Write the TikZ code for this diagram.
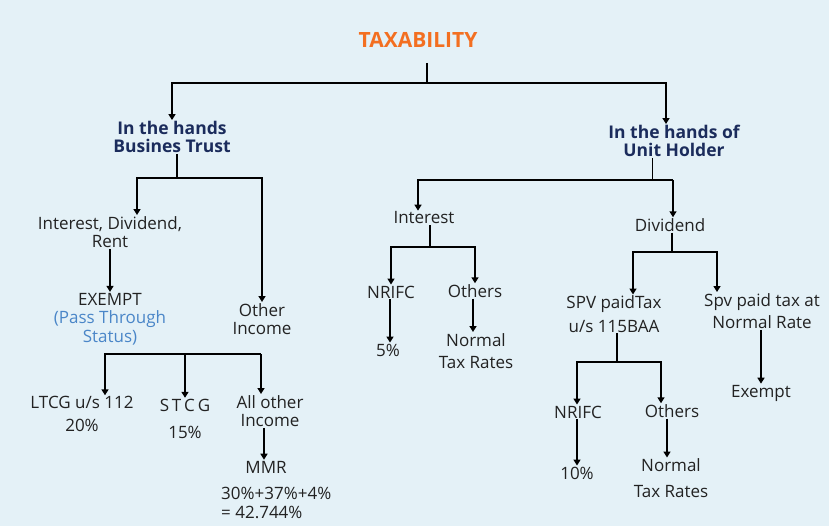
\documentclass[tikz,border=0pt]{standalone}
\usepackage{fontspec}
\setmainfont{Open Sans}
\usetikzlibrary{arrows.meta}
\definecolor{bgblue}{HTML}{E4F1F7}
\definecolor{taxorange}{HTML}{F36F21}
\definecolor{headnavy}{HTML}{1B2C5C}
\definecolor{passblue}{HTML}{4A86C8}
\definecolor{inkgray}{HTML}{222222}
\tikzset{
  txt/.style={align=center, inner sep=1pt, text=inkgray, font=\fontsize{17}{18.5}\selectfont},
  head/.style={align=center, inner sep=1pt, text=headnavy, font=\fontsize{17.5}{18}\selectfont\bfseries},
  ttl/.style={inner sep=2pt, text=taxorange, font=\fontsize{21}{22}\selectfont\bfseries},
  line/.style={line width=1.6pt, black},
  arr/.style={line width=1.6pt, black, -{Triangle[width=7pt,length=6pt]}},
}

\begin{document}
\begin{tikzpicture}[x=1pt,y=-1pt]
  \fill[bgblue] (0,0) rectangle (829,526);
  \useasboundingbox (0,0) rectangle (829,526);

  \node[ttl] (tax) at (418,40) {TAXABILITY};
  \node[head] (bt) at (172,137) {In the hands\\Busines Trust};
  \node[head] (uh) at (674,141) {In the hands of\\Unit Holder};

  \node[txt] (idr) at (110,232) {Interest, Dividend,\\Rent};
  \node[txt] (ex) at (110,319) {EXEMPT\\{\color{passblue}(Pass Through}\\{\color{passblue}Status)}};
  \node[txt] (oi) at (262,319) {Other\\Income};
  \node[txt] (ltcg) at (82,414) {LTCG u/s 112\\[4pt]20\%};
  \node[txt] (stcg) at (185,419) {S\,T\,C\,G\\[9pt]15\%};
  \node[txt] (aoi) at (270,411) {All other\\Income};
  \node[txt] (mmr) at (266,467) {MMR};
  \node[txt, align=left, anchor=west] (calc) at (220,503) {30\%+37\%+4\%\\= 42.744\%};

  \node[txt] (int) at (424,218) {Interest};
  \node[txt] (nr1) at (391,292) {NRIFC};
  \node[txt] (ot1) at (475,291) {Others};
  \node[txt] (r5) at (388,350) {5\%};
  \node[txt] (ntr1) at (476,351) {Normal\\[4pt]Tax Rates};

  \node[txt] (div) at (670,225) {Dividend};
  \node[txt] (spv) at (614,314) {SPV paidTax\\[5pt]u/s 115BAA};
  \node[txt] (spvn) at (762,311) {Spv paid tax at\\[4pt]Normal Rate};
  \node[txt] (exm) at (761,393) {Exempt};
  \node[txt] (nr2) at (578,412) {NRIFC};
  \node[txt] (ot2) at (672,411) {Others};
  \node[txt] (r10) at (577,473) {10\%};
  \node[txt] (ntr2) at (671,478) {Normal\\[7pt]Tax Rates};

  \coordinate (taxstem) at (427,63);
  \coordinate (taxfork) at (427,83);
  \draw[line] (taxstem) -- (taxfork);
  \draw[arr] (taxfork) -| (bt.north);
  \draw[arr] (taxfork) -| ([xshift=-8pt]uh.north);

  \coordinate (btfork) at (177,178);
  \draw[line] (bt.south -| btfork) -- (btfork);
  \draw[arr] (btfork) -| ([xshift=27pt]idr.north);
  \draw[arr] (btfork) -| (oi.north);
  \draw[arr] (idr.south) -- (ex.north);

  \coordinate (oifork) at (261,354);
  \draw[arr] (oifork) -| ([xshift=23pt]ltcg.north);
  \draw[arr] (oifork) -- (oifork |- aoi.north);
  \draw[arr] (stcg.north |- oifork) -- (stcg.north);
  \draw[arr] ([xshift=-6pt]aoi.south) -- ([xshift=-6pt]aoi.south |- mmr.north);

  \coordinate (uhfork) at (652,180);
  \draw[line width=0.6pt] (uh.south -| uhfork) -- (uhfork);
  \draw[line] (uhfork) -- (673,180);
  \draw[arr] (uhfork) -| ([xshift=-6pt]int.north);
  \draw[arr] (673,180) -- ([xshift=3pt]div.north);

  \coordinate (intfork) at (430,247);
  \draw[line] (int.south -| intfork) -- (intfork);
  \draw[arr] (intfork) -| (nr1.north);
  \draw[arr] (intfork) -| (ot1.north);
  \draw[arr] ([xshift=-1pt]nr1.south) -- ([xshift=2pt]r5.north);
  \draw[arr] ([xshift=-2pt]ot1.south) -- ([xshift=-3pt]ntr1.north);

  \coordinate (divfork) at (672,252);
  \draw[line] (div.south -| divfork) -- (divfork);
  \draw[arr] (divfork) -| ([xshift=19pt]spv.north);
  \draw[arr] (divfork) -| ([xshift=-45pt]spvn.north);
  \draw[arr] ([xshift=-1pt]spvn.south) -- (exm.north);

  \coordinate (spvfork) at (617,362);
  \draw[line] (spv.south -| spvfork) -- (spvfork);
  \draw[arr] (spvfork) -| ([xshift=-1pt]nr2.north);
  \draw[arr] (spvfork) -| ([xshift=-11pt]ot2.north);
  \draw[arr] ([xshift=-1pt]nr2.south) -- (r10.north);
  \draw[arr] ([xshift=-5pt]ot2.south) -- ([xshift=-4pt]ntr2.north);
\end{tikzpicture}
\end{document}
